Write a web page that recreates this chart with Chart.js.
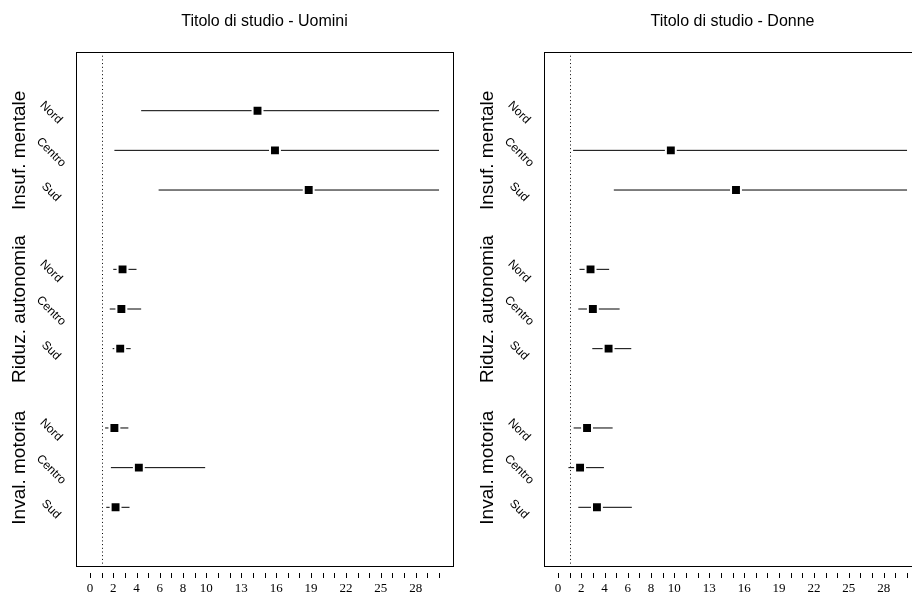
<!DOCTYPE html>
<html>
<head>
<meta charset="utf-8">
<script src="https://cdn.jsdelivr.net/npm/chart.js@4.4.1/dist/chart.umd.min.js"></script>
<style>
  html, body { margin: 0; padding: 0; background: #fff; overflow: hidden; }
  #wrap { position: relative; width: 912px; height: 593px; overflow: hidden; background: #fff; }
  #wrap canvas { position: absolute; top: 0; }
</style>
</head>
<body>
<div id="wrap">
  <canvas id="men" width="468" height="593" style="left:0"></canvas>
  <canvas id="women" width="468" height="593" style="left:468px"></canvas>
</div>
<script>
// Rows: three areas within each condition group
const regions = ['Nord', 'Centro', 'Sud'];
const conditions = ['Insuf. mentale', 'Riduz. autonomia', 'Inval. motoria'];
const rowPositions = [1, 2, 3, 5, 6, 7, 9, 10, 11];
const groupPositions = [2, 6, 10];

// x axis: labelled ticks and minor tick marks
const xTickLabels = [0, 2, 4, 6, 8, 10, 13, 16, 19, 22, 25, 28];
const xTickMarks = [0, 1, 2, 3, 4, 5, 6, 7, 8, 9, 10, 11, 12, 13, 14, 15, 16, 17, 18, 19, 20, 21, 22, 23, 24, 25, 26, 27, 28, 29, 30];
const referenceValue = 1;

// Uomini: estimate with lower / upper interval bounds (upper capped at 30)
const menEst  = [14.4, 15.9, 18.8, 2.8, 2.7, 2.6, 2.1, 4.2, 2.2];
const menLow  = [4.4, 2.1, 5.9, 2.0, 1.7, 1.95, 1.3, 1.8, 1.4];
const menHigh = [30, 30, 30, 4.0, 4.4, 3.5, 3.3, 9.9, 3.4];

// Donne (no estimate for Insuf. mentale - Nord)
const womenEst  = [null, 9.7, 15.3, 2.8, 3.0, 4.35, 2.5, 1.9, 3.35];
const womenLow  = [null, 1.3, 4.8, 1.85, 1.75, 2.95, 1.35, 0.9, 1.75];
const womenHigh = [null, 30, 30, 4.4, 5.3, 6.3, 4.7, 3.95, 6.35];

const SANS = '"Liberation Sans", Arial, Helvetica, sans-serif';
const SERIF = '"Liberation Serif", "Times New Roman", serif';

const decorPlugin = {
  id: 'panelDecor',
  beforeDatasetsDraw(chart) {
    const { ctx, chartArea: a, scales: { x } } = chart;
    const px = Math.round(x.getPixelForValue(referenceValue)) + 0.5;
    ctx.save();
    ctx.strokeStyle = '#000';
    ctx.lineWidth = 1;
    ctx.setLineDash([1, 2.7]);
    ctx.beginPath();
    ctx.moveTo(px, a.top);
    ctx.lineTo(px, a.bottom);
    ctx.stroke();
    ctx.restore();
  },
  afterDraw(chart, args, opts) {
    const { ctx, chartArea: a, scales: { x, y } } = chart;
    ctx.save();
    // frame
    ctx.strokeStyle = '#000';
    ctx.lineWidth = 1;
    ctx.strokeRect(Math.round(a.left) + 0.5, Math.round(a.top) + 0.5,
                   Math.round(a.right - a.left), Math.round(a.bottom - a.top));
    // tick marks below the frame
    ctx.beginPath();
    xTickMarks.forEach(v => {
      const px = Math.round(x.getPixelForValue(v)) + 0.5;
      ctx.moveTo(px, a.bottom + 7);
      ctx.lineTo(px, a.bottom + 12);
    });
    ctx.stroke();
    // title
    ctx.fillStyle = '#000';
    ctx.font = '16px ' + SANS;
    ctx.textAlign = 'center';
    ctx.textBaseline = 'middle';
    ctx.fillText(opts.title, (a.left + a.right) / 2, a.top - 30);
    // condition group labels (vertical)
    ctx.font = '19px ' + SANS;
    conditions.forEach((c, i) => {
      ctx.save();
      ctx.translate(20, y.getPixelForValue(groupPositions[i]));
      ctx.rotate(-Math.PI / 2);
      ctx.fillText(c, 0, 0);
      ctx.restore();
    });
    // region labels (diagonal)
    ctx.font = '12px ' + SANS;
    rowPositions.forEach((p, i) => {
      ctx.save();
      ctx.translate(51, y.getPixelForValue(p) + 2);
      ctx.rotate(Math.PI / 4);
      ctx.fillText(regions[i % 3], 0, 0);
      ctx.restore();
    });
    ctx.restore();
  }
};

function buildPanel(id, title, est, low, high) {
  const points = {
    type: 'scatter',
    data: rowPositions.map((p, i) => ({ x: est[i], y: p })).filter(d => d.x !== null),
    pointStyle: 'rect',
    pointRadius: 7,
    pointBorderWidth: 2,
    pointBorderColor: '#fff',
    pointBackgroundColor: '#000',
    showLine: false
  };
  const intervals = rowPositions.map((p, i) => ({
    type: 'line',
    data: low[i] === null ? [] : [{ x: low[i], y: p }, { x: high[i], y: p }],
    borderColor: '#000',
    borderWidth: 1,
    pointRadius: 0,
    fill: false
  }));
  return new Chart(document.getElementById(id), {
    type: 'scatter',
    data: { datasets: [points, ...intervals] },
    plugins: [decorPlugin],
    options: {
      responsive: false,
      animation: false,
      events: [],
      layout: { padding: { left: 76, right: 15, top: 52, bottom: 0 } },
      plugins: {
        legend: { display: false },
        tooltip: { enabled: false },
        title: { display: false },
        panelDecor: { title }
      },
      scales: {
        x: {
          type: 'linear',
          min: -1.2,
          max: 31.2,
          afterFit(s) { s.height = 27; },
          afterBuildTicks(s) { s.ticks = xTickMarks.map(v => ({ value: v })); },
          grid: { display: false, drawTicks: false },
          border: { display: false },
          ticks: {
            autoSkip: false,
            maxRotation: 0,
            padding: 15,
            color: '#000',
            font: { family: SERIF, size: 13 },
            callback: v => xTickLabels.includes(v) ? String(v) : ''
          }
        },
        y: {
          type: 'linear',
          display: false,
          reverse: true,
          min: -0.48,
          max: 12.48
        }
      }
    }
  });
}

buildPanel('men', 'Titolo di studio - Uomini', menEst, menLow, menHigh);
buildPanel('women', 'Titolo di studio - Donne', womenEst, womenLow, womenHigh);
</script>
</body>
</html>
